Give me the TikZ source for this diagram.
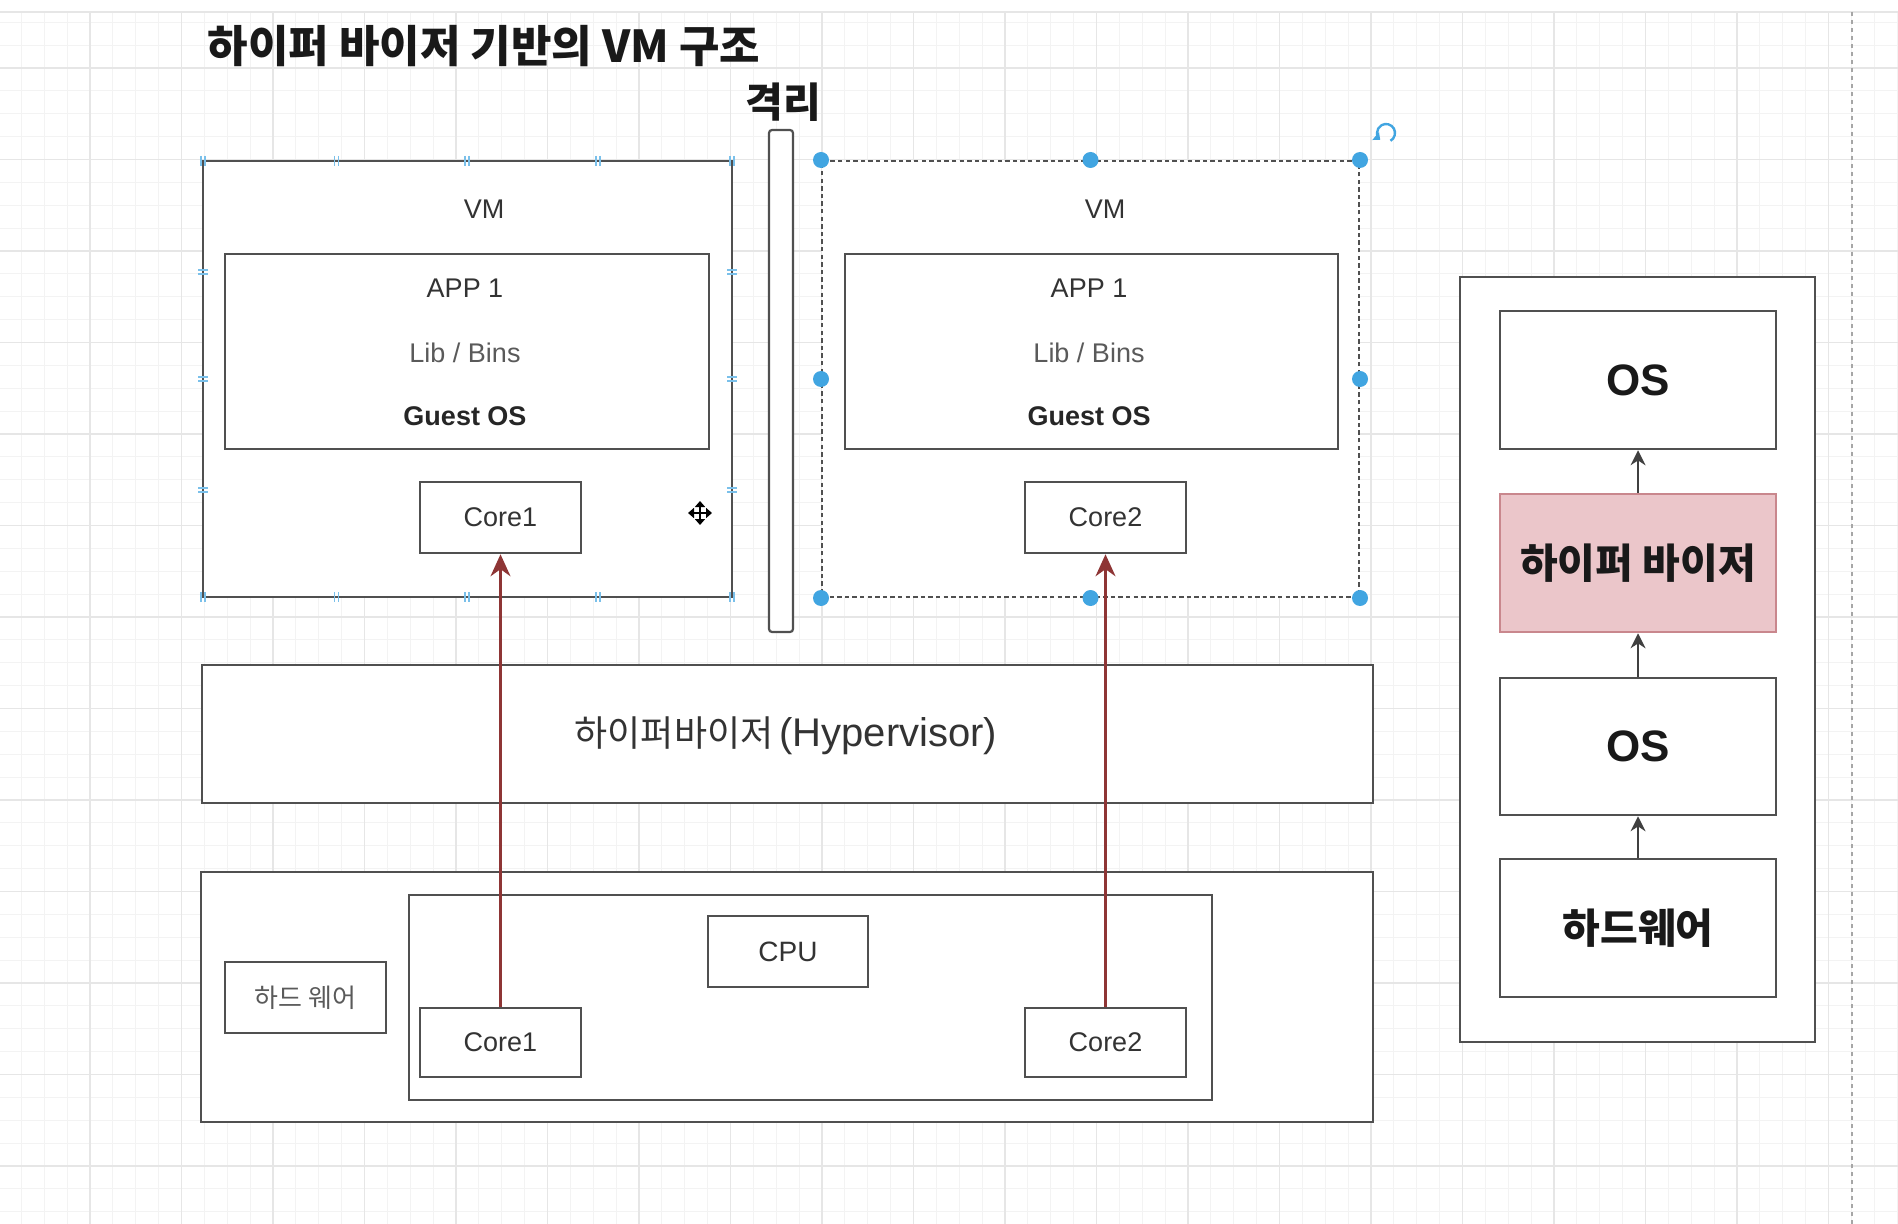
\documentclass[tikz,border=0pt]{standalone}
\usepackage{fontspec}
\setmainfont{Liberation Sans}
\newfontfamily\kr{Noto Sans CJK KR}
\usetikzlibrary{arrows.meta}
\definecolor{boxgray}{HTML}{505050}
\definecolor{txt}{HTML}{333333}
\definecolor{txtlight}{HTML}{5A5A5A}
\definecolor{gridminor}{HTML}{F3F3F3}
\definecolor{gridmajor}{HTML}{E6E6E6}
\definecolor{arrred}{HTML}{8E3535}
\definecolor{pinkfill}{HTML}{EBC6CA}
\definecolor{pinkdraw}{HTML}{C9878D}
\definecolor{hblue}{HTML}{41A5E1}
\begin{document}
\begin{tikzpicture}[x=0.5pt,y=-0.5pt,
  box/.style={draw=boxgray, line width=1.3pt, fill=white, rectangle, inner sep=0pt},
  lbl/.style={font=\fontsize{13.5}{16}\selectfont, text=txt, inner sep=0pt},
  lblb/.style={font=\bfseries\fontsize{13.5}{16}\selectfont, text=black!85, inner sep=0pt},
  biglbl/.style={font=\bfseries\fontsize{22}{26}\selectfont, text=black!90, inner sep=0pt},
  bigkr/.style={font=\kr\bfseries\fontsize{20.5}{24}\selectfont, text=black!90, inner sep=0pt},
  redarr/.style={draw=arrred, line width=1.1pt, -{Stealth[length=11pt,width=10pt]}},
  blkarr/.style={draw=black!75, line width=0.9pt, -{Stealth[length=7.5pt,width=7.5pt]}},
  handle/.style={fill=hblue},
  ticks/.style={draw=hblue!70, line width=0.8pt}
]
\useasboundingbox (0,0) rectangle (1898,1224);
\fill[white] (0,0) rectangle (1898,1224);
% grid
\foreach \i in {0,...,83} {\draw[gridminor, line width=0.5pt] ({-1.5+\i*22.875},12) -- ({-1.5+\i*22.875},1224);}
\foreach \j in {0,...,52} {\draw[gridminor, line width=0.5pt] (0,{22.25+\j*22.875}) -- (1898,{22.25+\j*22.875});}
\foreach \i in {0,...,20} {\draw[gridmajor, line width=0.6pt] ({-1.5+\i*91.5},12) -- ({-1.5+\i*91.5},1224);}
\foreach \j in {0,...,12} {\draw[gridmajor, line width=0.6pt] (0,{68+\j*91.5}) -- (1898,{68+\j*91.5});}
\draw[gridmajor, line width=0.6pt] (0,12) -- (1898,12);
\draw[black!35, line width=0.6pt, dash pattern=on 2pt off 2pt] (1852,12) -- (1852,1224);

% title
\node[font=\kr\bfseries\fontsize{22}{25}\selectfont, text=black!90, inner sep=0pt] (title) at (484,46) {하이퍼 바이저 기반의 VM 구조};
\node[font=\kr\bfseries\fontsize{20.5}{24}\selectfont, text=black!90, inner sep=0pt] (iso) at (783,102) {격리};
\node[draw=boxgray, line width=1.1pt, fill=white, rounded corners=1.5pt, minimum width=12pt, minimum height=251pt, inner sep=0pt] (bar) at (781,381) {};

% left VM
\node[box, minimum width=264.5pt, minimum height=218pt] (vmL) at (467.5,379) {};
\node[lbl] (vmLt) at (484,209) {VM};
\node[box, minimum width=242pt, minimum height=97.5pt] (inL) at (467,351.5) {};
\node[lbl] (appL) at (465,288) {APP 1};
\node[lbl, text=txtlight] (libL) at (465,353) {Lib / Bins};
\node[lblb] (gosL) at (465,416) {Guest OS};
\node[box, minimum width=80.5pt, minimum height=35.5pt, font=\fontsize{13.5}{16}\selectfont, text=txt] (c1t) at (500.5,517.5) {Core1};
% left VM hover ticks
\foreach \x in {203,336.5,467,598,732} {
  \draw[ticks] (\x-2,156) -- (\x-2,166) (\x+2,156) -- (\x+2,166);
  \draw[ticks] (\x-2,592) -- (\x-2,602) (\x+2,592) -- (\x+2,602);}
\foreach \y in {272,379,490} {
  \draw[ticks] (198,\y-2) -- (208,\y-2) (198,\y+2) -- (208,\y+2);
  \draw[ticks] (727,\y-2) -- (737,\y-2) (727,\y+2) -- (737,\y+2);}
% move cursor
\draw[black, line width=1.3pt, {Triangle[length=3pt,width=5pt]}-{Triangle[length=3pt,width=5pt]}] (688,513) -- (712,513);
\draw[black, line width=1.3pt, {Triangle[length=3pt,width=5pt]}-{Triangle[length=3pt,width=5pt]}] (700,501) -- (700,525);

% right VM (selected)
\node[box, draw=boxgray, line width=1pt, dash pattern=on 2.2pt off 1.6pt, minimum width=268.5pt, minimum height=218pt] (vmR) at (1090.5,379) {};
\node[lbl] (vmRt) at (1105,209) {VM};
\node[box, minimum width=246.5pt, minimum height=97.5pt] (inR) at (1091.5,351.5) {};
\node[lbl] (appR) at (1089,288) {APP 1};
\node[lbl, text=txtlight] (libR) at (1089,353) {Lib / Bins};
\node[lblb] (gosR) at (1089,416) {Guest OS};
\node[box, minimum width=80.5pt, minimum height=35.5pt, font=\fontsize{13.5}{16}\selectfont, text=txt] (c2t) at (1105.5,517.5) {Core2};
\foreach \a in {north west,north,north east,west,east,south west,south,south east}
  {\fill[handle] (vmR.\a) circle[radius=8];}
\draw[hblue, line width=1.2pt, -{Triangle[length=3pt,width=5pt]}] (1386,133) ++(60:9) arc[start angle=60, end angle=-230, radius=9];

% hypervisor
\node[box, minimum width=585.5pt, minimum height=69pt] (hyp) at (787.5,734) {};
\node[inner sep=0pt, text=txt] (hypt) at (786,736) {{\kr\fontsize{18}{20}\selectfont 하이퍼바이저}\hspace{3pt}{\fontsize{20}{22}\selectfont (Hypervisor)}};

% hardware
\node[box, minimum width=586pt, minimum height=125pt] (hw) at (787,997) {};
\node[box, minimum width=80.5pt, minimum height=35.5pt, font=\kr\fontsize{13}{16}\selectfont, text=txtlight] (hwl) at (305.5,997.5) {하드 웨어};
\node[box, minimum width=401.5pt, minimum height=102.5pt] (cpuc) at (810.5,997.5) {};
\node[box, minimum width=80pt, minimum height=35.5pt, font=\fontsize{14}{16}\selectfont, text=txt] (cpu) at (788,951.5) {CPU};
\node[box, minimum width=80.5pt, minimum height=34.5pt, font=\fontsize{13.5}{16}\selectfont, text=txt] (c1b) at (500.5,1042.5) {Core1};
\node[box, minimum width=80.5pt, minimum height=34.5pt, font=\fontsize{13.5}{16}\selectfont, text=txt] (c2b) at (1105.5,1042.5) {Core2};

\draw[redarr] (c1b.north) -- (c1t.south);
\draw[redarr] (c2b.north) -- (c2t.south);

% right panel
\node[box, minimum width=177.5pt, minimum height=382.5pt] (panel) at (1637.5,659.5) {};
\node[box, minimum width=138pt, minimum height=69pt, biglbl] (os1) at (1638,380) {OS};
\node[box, draw=pinkdraw, fill=pinkfill, minimum width=138pt, minimum height=69pt, bigkr] (hv) at (1638,563) {하이퍼 바이저};
\node[box, minimum width=138pt, minimum height=68.5pt, biglbl] (os2) at (1638,746.5) {OS};
\node[box, minimum width=138pt, minimum height=69pt, bigkr] (hw2) at (1638,928) {하드웨어};
\draw[blkarr] (hv.north) -- (os1.south);
\draw[blkarr] (os2.north) -- (hv.south);
\draw[blkarr] (hw2.north) -- (os2.south);
\end{tikzpicture}
\end{document}
